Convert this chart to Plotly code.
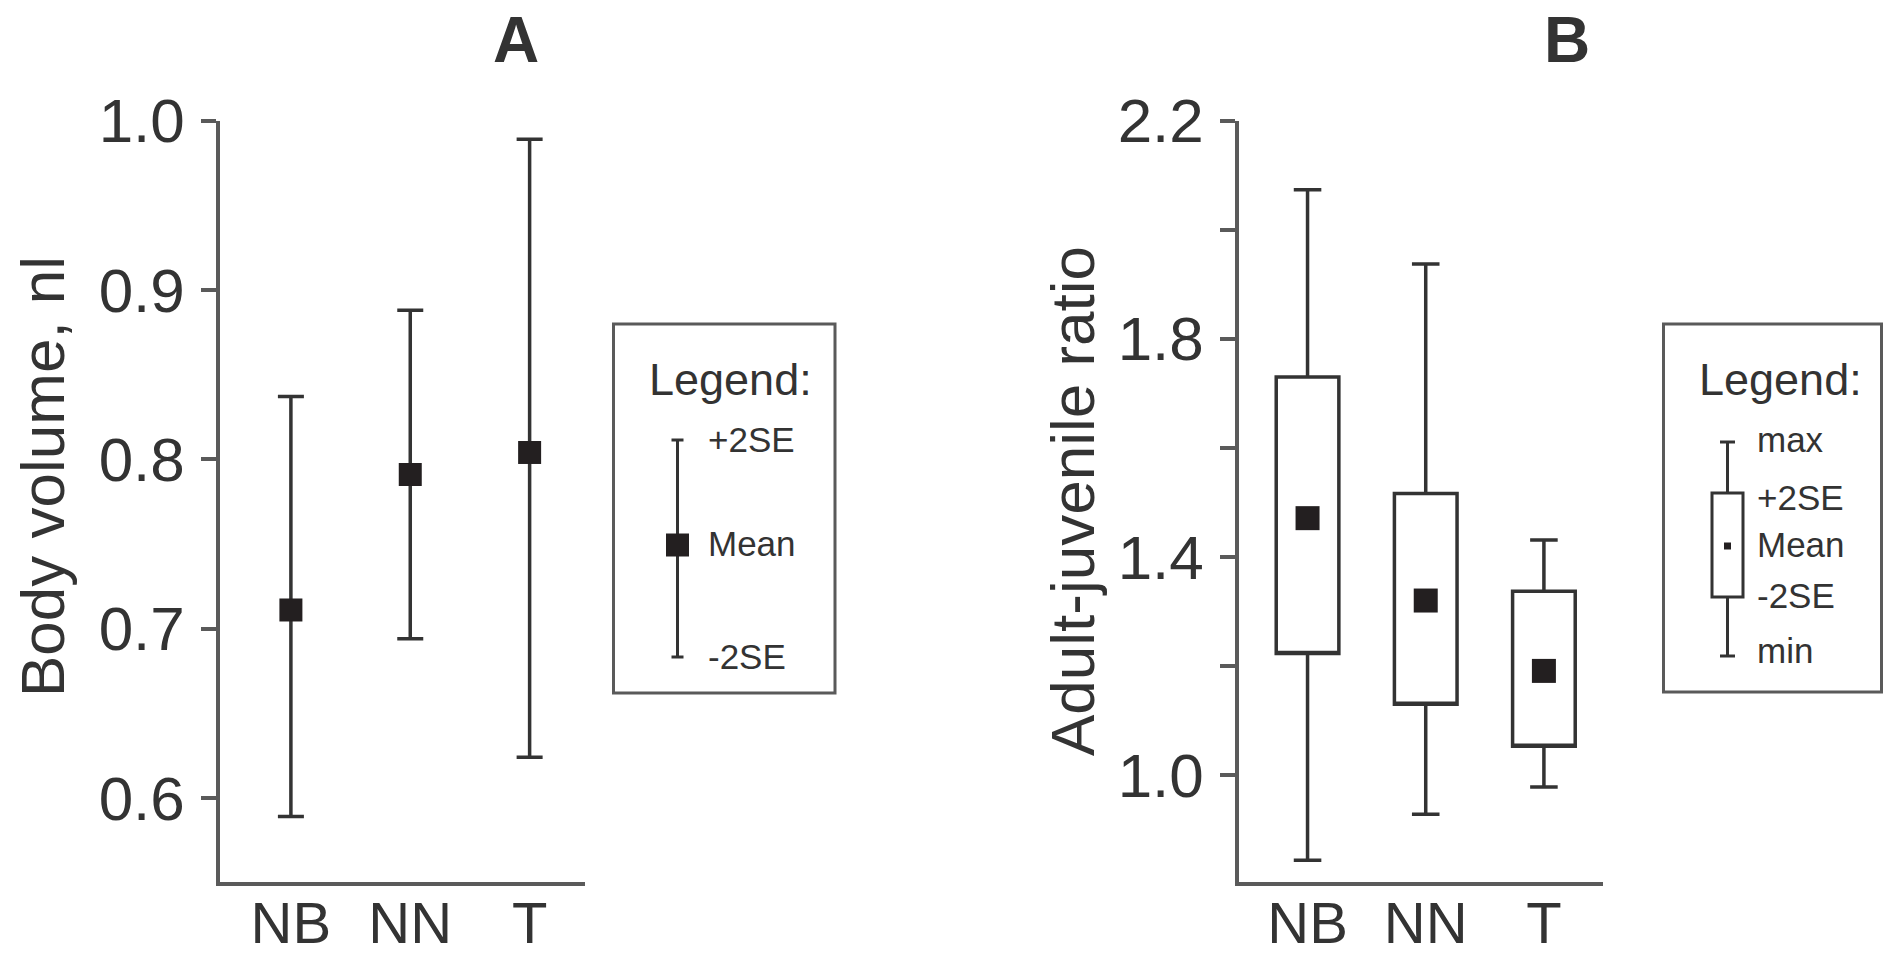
import plotly.graph_objects as go

# ---------------- data ----------------
categories = ["NB", "NN", "T"]

# Panel A: body volume (nl), mean with +/-2SE
vol_mean = [0.711, 0.791, 0.804]
vol_upper = [0.837, 0.888, 0.989]
vol_lower = [0.589, 0.694, 0.624]
a_tickvals = [0.6, 0.7, 0.8, 0.9, 1.0]
a_ticktext = ["0.6", "0.7", "0.8", "0.9", "1.0"]

# Panel B: adult-juvenile ratio
ratio_max = [2.073, 1.937, 1.431]
ratio_up2se = [1.730, 1.516, 1.337]
ratio_mean = [1.471, 1.320, 1.191]
ratio_lo2se = [1.223, 1.130, 1.053]
ratio_min = [0.844, 0.928, 0.978]
b_tickvals = [1.0, 1.2, 1.4, 1.6, 1.8, 2.0, 2.2]
b_ticktext = ["1.0", "", "1.4", "", "1.8", "", "2.2"]

# ---------------- style ----------------
W, H = 1883, 954
FONT = "Liberation Sans, Arial, sans-serif"
TXT = "#333333"
LINE = "#333333"
AXC = "#5a5a5a"
MARK = "#231f20"


def X(px):
    return px / W


def Y(py):
    return 1 - py / H


fig = go.Figure()

# Panel A: error bars
fig.add_trace(go.Scatter(
    x=categories, y=vol_mean, mode="markers",
    marker=dict(symbol="square", size=23, color=MARK, line=dict(width=0)),
    error_y=dict(type="data", symmetric=False,
                 array=[u - m for u, m in zip(vol_upper, vol_mean)],
                 arrayminus=[m - l for m, l in zip(vol_mean, vol_lower)],
                 color=LINE, thickness=3.5, width=13),
    xaxis="x", yaxis="y", showlegend=False, hoverinfo="skip",
))

# Panel B: boxes (box = +/-2SE, whiskers = min/max)
fig.add_trace(go.Box(
    x=categories, q1=ratio_lo2se, median=ratio_lo2se, q3=ratio_up2se,
    lowerfence=ratio_min, upperfence=ratio_max,
    width=0.53, whiskerwidth=0.44, boxpoints=False,
    fillcolor="white", line=dict(color=LINE, width=3.5),
    xaxis="x2", yaxis="y2", showlegend=False, hoverinfo="skip",
))
fig.add_trace(go.Scatter(
    x=categories, y=ratio_mean, mode="markers",
    marker=dict(symbol="square", size=24, color=MARK, line=dict(width=0)),
    xaxis="x2", yaxis="y2", showlegend=False, hoverinfo="skip",
))

axis_common = dict(showgrid=False, zeroline=False, showline=True,
                   linecolor=AXC, linewidth=3.5, fixedrange=True, automargin=False)

fig.update_layout(
    width=W, height=H,
    margin=dict(l=0, r=0, t=0, b=0, autoexpand=False),
    paper_bgcolor="white", plot_bgcolor="white",
    font=dict(family=FONT, color=TXT),
    xaxis=dict(domain=[X(220), X(585)], type="category",
               range=[-0.594, 2.464], ticks="", anchor="y",
               tickfont=dict(size=58, color=TXT), ticklabelstandoff=-12,
               **axis_common),
    yaxis=dict(domain=[Y(882), Y(120.5)], range=[0.5504, 1.0],
               tickvals=a_tickvals, ticktext=a_ticktext,
               ticks="outside", ticklen=15, tickwidth=3.5, tickcolor=AXC,
               tickfont=dict(size=62, color=TXT), ticklabelstandoff=4,
               anchor="x", **axis_common),
    xaxis2=dict(domain=[X(1239), X(1603)], type="category",
                range=[-0.58, 2.50], ticks="", anchor="y2",
                tickfont=dict(size=58, color=TXT), ticklabelstandoff=-12,
                **axis_common),
    yaxis2=dict(domain=[Y(882), Y(120.5)], range=[0.804, 2.2],
                tickvals=b_tickvals, ticktext=b_ticktext,
                ticks="outside", ticklen=15, tickwidth=3.5, tickcolor=AXC,
                tickfont=dict(size=62, color=TXT), ticklabelstandoff=4,
                anchor="x2", **axis_common),
)

ann = []
# panel titles
ann.append(dict(text="<b>A</b>", x=X(516), y=Y(40), xref="paper", yref="paper",
                showarrow=False, font=dict(size=64, color=TXT, family=FONT),
                xanchor="center", yanchor="middle"))
ann.append(dict(text="<b>B</b>", x=X(1567), y=Y(40), xref="paper", yref="paper",
                showarrow=False, font=dict(size=64, color=TXT, family=FONT),
                xanchor="center", yanchor="middle"))
# y axis titles
ann.append(dict(text="Body volume, nl", x=X(42), y=Y(477), xref="paper", yref="paper",
                showarrow=False, textangle=-90, font=dict(size=62, color=TXT, family=FONT),
                xanchor="center", yanchor="middle"))
ann.append(dict(text="Adult-juvenile ratio", x=X(1072), y=Y(501), xref="paper", yref="paper",
                showarrow=False, textangle=-90, font=dict(size=62, color=TXT, family=FONT),
                xanchor="center", yanchor="middle"))

shapes = []
# ---- Legend A ----
shapes.append(dict(type="rect", xref="paper", yref="paper",
                   x0=X(613.5), x1=X(835), y0=Y(693), y1=Y(324),
                   line=dict(color=AXC, width=3), fillcolor="rgba(0,0,0,0)"))
ann.append(dict(text="Legend:", x=X(730), y=Y(379), xref="paper", yref="paper",
                showarrow=False, font=dict(size=45, color=TXT, family=FONT),
                xanchor="center", yanchor="middle"))
lx = 677.5
shapes.append(dict(type="line", xref="paper", yref="paper",
                   x0=X(lx), x1=X(lx), y0=Y(440), y1=Y(657), line=dict(color=LINE, width=3)))
for yy in (440, 657):
    shapes.append(dict(type="line", xref="paper", yref="paper",
                       x0=X(lx - 6), x1=X(lx + 6), y0=Y(yy), y1=Y(yy),
                       line=dict(color=LINE, width=3)))
shapes.append(dict(type="rect", xref="paper", yref="paper",
                   x0=X(lx - 11.5), x1=X(lx + 11.5), y0=Y(545 + 11.5), y1=Y(545 - 11.5),
                   line=dict(width=0), fillcolor=MARK))
for txt, yy in (("+2SE", 439), ("Mean", 543), ("-2SE", 656)):
    ann.append(dict(text=txt, x=X(706), y=Y(yy), xref="paper", yref="paper",
                    showarrow=False, font=dict(size=35, color=TXT, family=FONT),
                    xanchor="left", yanchor="middle"))

# ---- Legend B ----
shapes.append(dict(type="rect", xref="paper", yref="paper",
                   x0=X(1663.5), x1=X(1881.5), y0=Y(692), y1=Y(324),
                   line=dict(color=AXC, width=3), fillcolor="rgba(0,0,0,0)"))
ann.append(dict(text="Legend:", x=X(1780), y=Y(379), xref="paper", yref="paper",
                showarrow=False, font=dict(size=45, color=TXT, family=FONT),
                xanchor="center", yanchor="middle"))
bx = 1727.5
shapes.append(dict(type="line", xref="paper", yref="paper",
                   x0=X(bx), x1=X(bx), y0=Y(442), y1=Y(493), line=dict(color=LINE, width=3)))
shapes.append(dict(type="line", xref="paper", yref="paper",
                   x0=X(bx), x1=X(bx), y0=Y(597), y1=Y(656), line=dict(color=LINE, width=3)))
for yy in (442, 656):
    shapes.append(dict(type="line", xref="paper", yref="paper",
                       x0=X(bx - 7.5), x1=X(bx + 7.5), y0=Y(yy), y1=Y(yy),
                       line=dict(color=LINE, width=3)))
shapes.append(dict(type="rect", xref="paper", yref="paper",
                   x0=X(1712), x1=X(1743), y0=Y(597), y1=Y(493),
                   line=dict(color=LINE, width=3), fillcolor="white"))
shapes.append(dict(type="rect", xref="paper", yref="paper",
                   x0=X(bx - 3.5), x1=X(bx + 3.5), y0=Y(546 + 3.5), y1=Y(546 - 3.5),
                   line=dict(width=0), fillcolor=MARK))
for txt, yy in (("max", 439), ("+2SE", 497), ("Mean", 544), ("-2SE", 595), ("min", 650)):
    ann.append(dict(text=txt, x=X(1755), y=Y(yy), xref="paper", yref="paper",
                    showarrow=False, font=dict(size=35, color=TXT, family=FONT),
                    xanchor="left", yanchor="middle"))

fig.update_layout(annotations=ann, shapes=shapes)

fig.write_html("out.html", config={"displayModeBar": False})
